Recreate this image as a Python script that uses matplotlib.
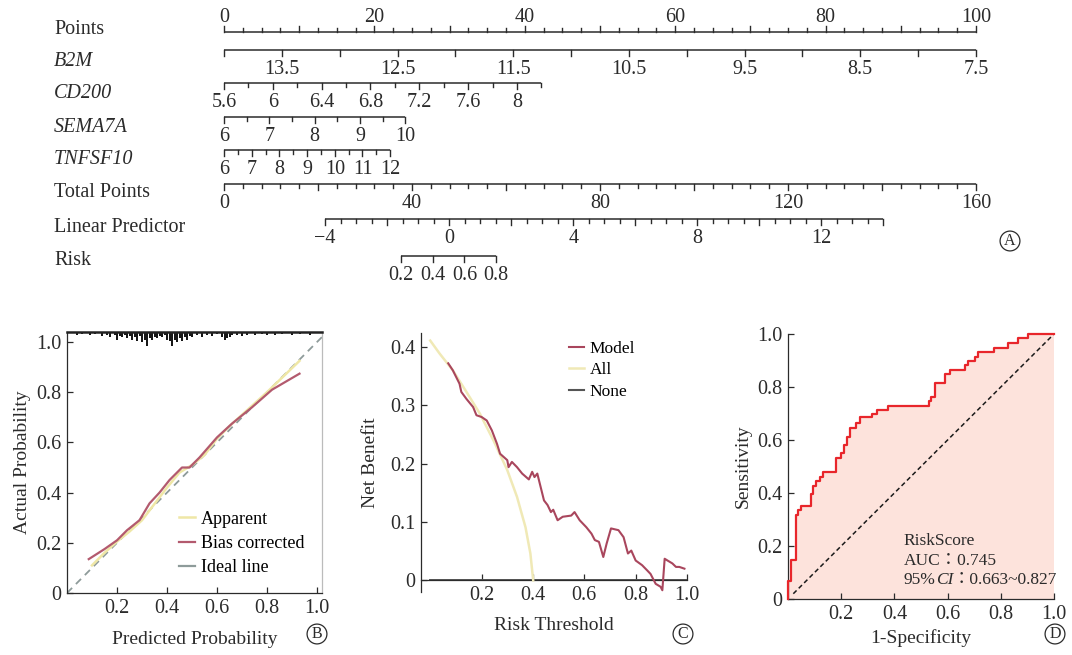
import numpy as np
import matplotlib
matplotlib.use("Agg")
import matplotlib.pyplot as plt
from matplotlib.lines import Line2D

plt.rcParams['font.family'] = ['Liberation Serif', 'Noto Sans CJK TC']

# ---------------- data ----------------
# nomogram: value range of each variable and the points at both ends
B2M_VALUES, B2M_POINTS = (14.0, 7.5), (0, 100)
CD200_VALUES, CD200_POINTS = (5.6, 8.2), (0, 42.2)
SEMA7A_VALUES, SEMA7A_POINTS = (6.0, 10.0), (0, 24.1)
TNFSF10_VALUES, TNFSF10_POINTS = (6.0, 12.0), (0, 22.1)
TOTAL_VALUES, TOTAL_POINTS = (0, 160), (0, 100)
LP_VALUES, LP_TOTAL = (-4, 14), (21.5, 140.3)
RISK_VALUES, RISK_TOTAL = (0.2, 0.8), (37.7, 57.9)
RISK_LABELS = [0.2, 0.4, 0.6, 0.8]

# calibration curve
apparent_x = [0.10, 0.15, 0.20, 0.25, 0.30, 0.35, 0.40, 0.45, 0.50, 0.55, 0.60, 0.65, 0.70, 0.80, 0.93]
apparent_y = [0.11, 0.16, 0.205, 0.245, 0.29, 0.355, 0.42, 0.48, 0.51, 0.55, 0.615, 0.665, 0.71, 0.80, 0.925]
bias_x = [0.087, 0.15, 0.20, 0.24, 0.29, 0.33, 0.37, 0.41, 0.46, 0.49, 0.53, 0.60, 0.66, 0.74, 0.82, 0.93]
bias_y = [0.135, 0.175, 0.21, 0.25, 0.29, 0.357, 0.40, 0.45, 0.50, 0.50, 0.54, 0.62, 0.675, 0.74, 0.81, 0.874]
rug_x = [0.04, 0.06, 0.09, 0.11, 0.14, 0.16, 0.17, 0.19, 0.20, 0.21, 0.22, 0.23, 0.24, 0.25, 0.26,
         0.27, 0.28, 0.29, 0.30, 0.31, 0.32, 0.33, 0.34, 0.35, 0.36, 0.37, 0.38, 0.39, 0.40, 0.41,
         0.42, 0.43, 0.44, 0.45, 0.46, 0.47, 0.48, 0.49, 0.50, 0.52, 0.54, 0.56, 0.58, 0.60, 0.62,
         0.63, 0.64, 0.65, 0.66, 0.68, 0.70, 0.72, 0.75, 0.78, 0.80, 0.83, 0.86, 0.90, 0.93, 0.97]
rug_h = [0.010, 0.008, 0.012, 0.006, 0.015, 0.010, 0.020, 0.012, 0.030, 0.015, 0.020, 0.010, 0.025, 0.015, 0.030,
         0.020, 0.035, 0.015, 0.040, 0.030, 0.055, 0.025, 0.030, 0.020, 0.025, 0.015, 0.020, 0.010, 0.030, 0.035,
         0.055, 0.030, 0.040, 0.025, 0.035, 0.020, 0.030, 0.015, 0.020, 0.012, 0.020, 0.010, 0.015, 0.008, 0.020,
         0.030, 0.025, 0.020, 0.012, 0.010, 0.015, 0.010, 0.012, 0.008, 0.010, 0.012, 0.008, 0.010, 0.008, 0.012]

# decision curve
model_x = [0.07, 0.088, 0.114, 0.121, 0.141, 0.167, 0.18, 0.2, 0.22, 0.24, 0.26, 0.272, 0.3, 0.305,
           0.318, 0.338, 0.358, 0.384, 0.397, 0.406, 0.417, 0.43, 0.443, 0.457, 0.47, 0.479, 0.496,
           0.516, 0.549, 0.562, 0.582, 0.608, 0.628, 0.641, 0.657, 0.674, 0.687, 0.704, 0.733, 0.753,
           0.77, 0.783, 0.8, 0.825, 0.845, 0.858, 0.878, 0.897, 0.904, 0.913, 0.924, 0.943, 0.957, 0.97, 0.99]
model_y = [0.372, 0.36, 0.337, 0.323, 0.311, 0.297, 0.283, 0.28, 0.274, 0.257, 0.234, 0.217, 0.206, 0.194,
           0.203, 0.194, 0.183, 0.173, 0.186, 0.177, 0.183, 0.16, 0.137, 0.129, 0.117, 0.121, 0.103,
           0.109, 0.111, 0.117, 0.103, 0.091, 0.08, 0.069, 0.066, 0.04, 0.063, 0.089, 0.086, 0.074,
           0.046, 0.051, 0.034, 0.026, 0.017, 0.011, -0.006, -0.011, -0.017, 0.037, 0.034, 0.029, 0.023, 0.023, 0.02]
all_x = [0.0, 0.036, 0.088, 0.141, 0.193, 0.246, 0.3, 0.338, 0.371, 0.39, 0.401]
all_y = [0.411, 0.389, 0.36, 0.323, 0.286, 0.24, 0.189, 0.143, 0.091, 0.046, 0.0]
none_x = [0.0, 1.0]
none_y = [0.0, 0.0]

# ROC curve (steps)
fpr = [0, 0, 0.0125, 0.029, 0.038, 0.05, 0.085, 0.094, 0.107, 0.119, 0.132, 0.179, 0.2, 0.209,
       0.222, 0.234, 0.257, 0.272, 0.317, 0.336, 0.376, 0.53, 0.539, 0.551, 0.589, 0.608, 0.664,
       0.677, 0.702, 0.714, 0.774, 0.827, 0.865, 0.902, 1.0]
tpr = [0, 0.067, 0.148, 0.318, 0.334, 0.352, 0.396, 0.428, 0.446, 0.462, 0.481, 0.531, 0.55, 0.582,
       0.613, 0.647, 0.663, 0.685, 0.698, 0.714, 0.73, 0.749, 0.764, 0.814, 0.848, 0.864, 0.883,
       0.898, 0.915, 0.931, 0.948, 0.965, 0.984, 1.0, 1.0]
model_name = "RiskScore"
auc_value = "0.745"
ci_value = "0.663~0.827"

# ---------------- figure ----------------
W, H = 1072, 655
fig = plt.figure(figsize=(W / 100, H / 100), dpi=100)
ink = '#2b2b2b'


def frac(l, t, r, b):
    return [l / W, 1 - b / H, (r - l) / W, (b - t) / H]


def lin(v, vals, pts):
    return pts[0] + (v - vals[0]) / (vals[1] - vals[0]) * (pts[1] - pts[0])


# ---------- A: nomogram ----------
ax = fig.add_axes(frac(0, 0, W, 290))
ax.set_xlim(-224 / 7.52, (W - 224) / 7.52)
ax.set_ylim(290, 0)
ax.axis('off')
nfs = 14.5


def scale_row(y, ticks, to_pts, labels, majors, up=False, fmt='{:g}'):
    xs = [to_pts(t) for t in ticks]
    ax.plot([min(xs), max(xs)], [y, y], color=ink, lw=1.1, solid_capstyle='butt')
    s = -1 if up else 1
    for t, x in zip(ticks, xs):
        L = 6 if any(np.isclose(t, m) for m in majors) else 4
        ax.plot([x, x], [y, y + s * L], color=ink, lw=1.0)
    for t in labels:
        ax.text(to_pts(t), y + (-5 if up else 10), fmt.format(t).replace('-', '\u2212'), ha='center',
                va='bottom' if up else 'top', fontsize=nfs, color=ink)


rows = [("Points", 30, False), ("B2M", 61, True), ("CD200", 94, True),
        ("SEMA7A", 127, True), ("TNFSF10", 160, True), ("Total Points", 192, False),
        ("Linear Predictor", 227, False), ("Risk", 260, False)]
for name, ly, it in rows:
    ax.text(54 / W, ly, name, transform=ax.get_yaxis_transform(), ha='left', va='center',
            fontsize=nfs, style='italic' if it else 'normal', color=ink)


def total_pts(v):
    return lin(v, TOTAL_VALUES, TOTAL_POINTS)


def lp_pts(v):
    return total_pts(lin(v, LP_VALUES, LP_TOTAL))


def risk_pts(v):
    return total_pts(lin(v, RISK_VALUES, RISK_TOTAL))


scale_row(32, np.arange(0, 100.1, 2.5), lambda v: v, np.arange(0, 101, 20), np.arange(0, 101, 10), up=True)
scale_row(50, np.arange(14, 7.49, -0.5), lambda v: lin(v, B2M_VALUES, B2M_POINTS),
          np.arange(13.5, 7.49, -1), np.arange(14, 7.49, -0.5))
scale_row(83, np.arange(5.6, 8.21, 0.2), lambda v: lin(v, CD200_VALUES, CD200_POINTS),
          np.round(np.arange(5.6, 8.01, 0.4), 1), np.round(np.arange(5.6, 8.01, 0.4), 1))
scale_row(117, np.arange(6, 10.01, 0.5), lambda v: lin(v, SEMA7A_VALUES, SEMA7A_POINTS),
          np.arange(6, 10.01, 1), np.arange(6, 10.01, 1))
scale_row(150, np.arange(6, 12.01, 0.5), lambda v: lin(v, TNFSF10_VALUES, TNFSF10_POINTS),
          np.arange(6, 12.01, 1), np.arange(6, 12.01, 1))
scale_row(184, np.arange(0, 160.1, 4), total_pts, np.arange(0, 161, 40), np.arange(0, 161, 20))
scale_row(219, np.arange(-4, 14.01, 0.5), lp_pts, np.arange(-4, 12.1, 4), np.arange(-4, 14.1, 2))
scale_row(256, RISK_LABELS, risk_pts, RISK_LABELS, RISK_LABELS)


def panel_tag(x, y, s):
    fig.text(x / W, 1 - y / H, s, ha='center', va='center', fontsize=11.5, color=ink,
             bbox=dict(boxstyle='circle,pad=0.12', fc='none', ec=ink, lw=0.9))


panel_tag(1010, 241, 'A')

fs = 14
tfs = 14.5


def style_axes(a):
    a.tick_params(direction='in', length=4, width=0.9, labelsize=tfs, colors=ink, pad=4)
    for sp in a.spines.values():
        sp.set_color(ink)
        sp.set_linewidth(0.9)


# ---------- B: calibration ----------
axb = fig.add_axes(frac(67, 332, 322, 593))
axb.set_xlim(0, 1.02)
axb.set_ylim(0, 1.04)
axb.plot([0, 1.02], [0, 1.02], ls=(0, (4, 3)), color='#8e9b9a', lw=1.3, zorder=2)
axb.plot(apparent_x, apparent_y, color='#efe7a6', lw=1.8, zorder=3)
axb.plot(bias_x, bias_y, color='#b35a6e', lw=1.6, zorder=4)
axb.vlines(rug_x, [1.04 - h for h in rug_h], 1.04, color='#111111', lw=1.4)
style_axes(axb)
axb.spines['top'].set_linewidth(1.8)
axb.spines['top'].set_color('#222222')
axb.spines['right'].set_color('#bbbbbb')
axb.set_xticks([0.2, 0.4, 0.6, 0.8, 1.0])
axb.set_xticklabels(['0.2', '0.4', '0.6', '0.8', '1.0'])
axb.set_yticks([0, 0.2, 0.4, 0.6, 0.8, 1.0])
axb.set_yticklabels(['0', '0.2', '0.4', '0.6', '0.8', '1.0'])
axb.tick_params(right=False, top=False)
axb.set_xlabel('Predicted Probability', fontsize=fs, color=ink, labelpad=10)
axb.set_ylabel('Actual Probability', fontsize=fs, color=ink, labelpad=4)
h_app = Line2D([], [], color='#efe7a6', lw=1.8)
h_bias = Line2D([], [], color='#b35a6e', lw=1.6)
h_ideal = Line2D([], [], color='#8e9b9a', lw=1.6)
axb.legend([h_app, h_bias, h_ideal], ['Apparent', 'Bias corrected', 'Ideal line'], loc='upper left',
           bbox_to_anchor=(0.44, 0.315), frameon=False, fontsize=13, handlelength=0.9,
           handletextpad=0.3, labelspacing=0.4, borderpad=0, borderaxespad=0)
panel_tag(317, 634, 'B')

# ---------- C: decision curve ----------
axc = fig.add_axes(frac(421, 333, 687, 592))
axc.set_xlim(-0.036, 1.0)
axc.set_ylim(-0.02, 0.424)
axc.plot(none_x, none_y, color='#555555', lw=1.4, zorder=2)
axc.plot(all_x, all_y, color='#f0e9b6', lw=1.8, zorder=3)
axc.plot(model_x, model_y, color='#a9465d', lw=1.5, zorder=4)
style_axes(axc)
axc.spines['top'].set_visible(False)
axc.spines['right'].set_visible(False)
axc.spines['bottom'].set_position(('data', 0))
axc.set_xticks([0.2, 0.4, 0.6, 0.8, 1.0])
axc.set_xticklabels(['0.2', '0.4', '0.6', '0.8', '1.0'])
axc.set_yticks([0, 0.1, 0.2, 0.3, 0.4])
axc.set_yticklabels(['0', '0.1', '0.2', '0.3', '0.4'])
axc.set_ylabel('Net Benefit', fontsize=fs, color=ink, labelpad=8)
fig.text((421 + 687) / 2 / W, 1 - 626 / H, 'Risk Threshold', ha='center', va='center', fontsize=fs, color=ink)
axc.legend([Line2D([], [], color='#a9465d', lw=1.5), Line2D([], [], color='#f0e9b6', lw=1.8),
            Line2D([], [], color='#555555', lw=1.5)], ['Model', 'All', 'None'], loc='upper left',
           bbox_to_anchor=(0.555, 0.97), frameon=False, fontsize=12.5, handlelength=0.9,
           handletextpad=0.3, labelspacing=0.3, borderpad=0, borderaxespad=0)
panel_tag(683, 634, 'C')

# ---------- D: ROC ----------
axd = fig.add_axes(frac(788, 334, 1054, 599))
axd.set_xlim(0, 1)
axd.set_ylim(0, 1)
axd.fill_between(fpr, tpr, step='post', color='#fde3dc', lw=0, zorder=1)
axd.plot([0.02, 1], [0.02, 1], ls=(0, (3, 2)), color='#1a1a1a', lw=1.1, zorder=2)
axd.plot(fpr, tpr, drawstyle='steps-post', color='#e8262b', lw=1.6, zorder=3, clip_on=False)
style_axes(axd)
axd.spines['top'].set_visible(False)
axd.spines['right'].set_visible(False)
axd.set_xticks([0.2, 0.4, 0.6, 0.8, 1.0])
axd.set_xticklabels(['0.2', '0.4', '0.6', '0.8', '1.0'])
axd.set_yticks([0, 0.2, 0.4, 0.6, 0.8, 1.0])
axd.set_yticklabels(['0', '0.2', '0.4', '0.6', '0.8', '1.0'])
axd.set_xlabel('1-Specificity', fontsize=fs, color=ink, labelpad=4)
axd.set_ylabel('Sensitivity', fontsize=fs, color=ink, labelpad=4)

tx, afs = 0.435, 12.5
axd.text(tx, 0.205, model_name, fontsize=afs, color=ink, ha='left', va='baseline')
axd.text(tx, 0.13, "AUC：" + auc_value, fontsize=afs, color=ink, ha='left', va='baseline')
# third line is built from pieces so that only "CI" is italic
fig.canvas.draw()
rend = fig.canvas.get_renderer()
x = tx
for piece, st in [("95%", 'normal'), ("CI", 'italic'), ("：" + ci_value, 'normal')]:
    t = axd.text(x, 0.055, piece, fontsize=afs, color=ink, ha='left', va='baseline', style=st)
    x1 = t.get_window_extent(rend).x1
    x = axd.transData.inverted().transform((x1, 0))[0]
panel_tag(1055, 634, 'D')

fig.savefig('out.png', dpi=100)
